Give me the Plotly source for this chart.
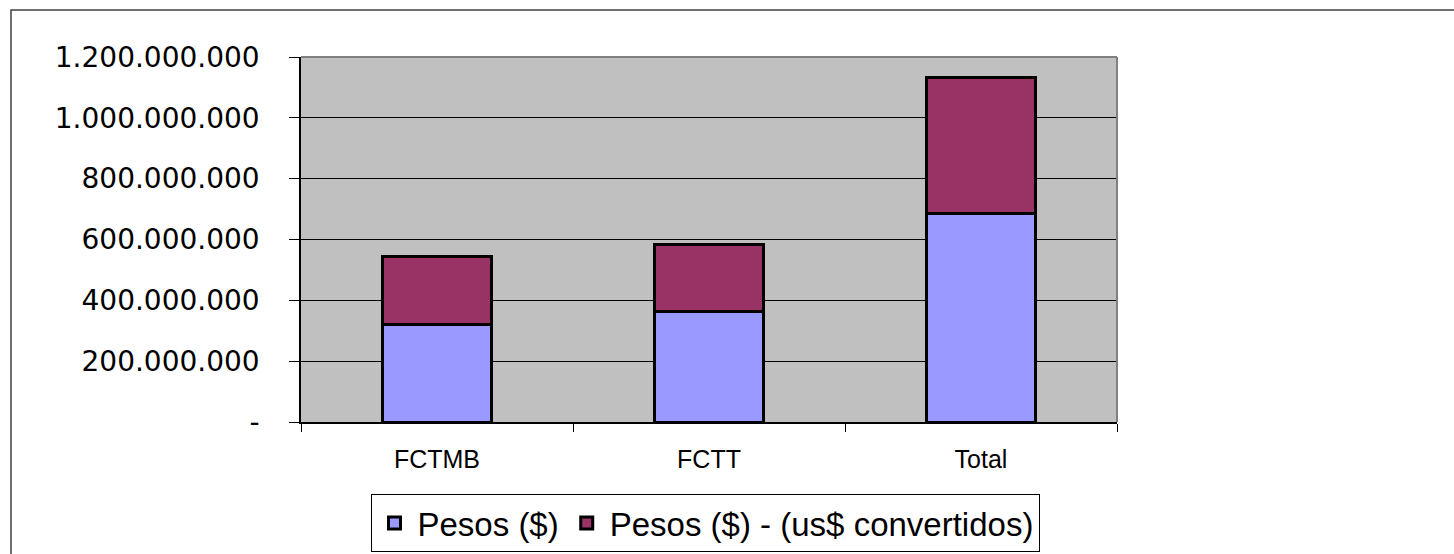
import plotly.graph_objects as go

categories = ["FCTMB", "FCTT", "Total"]
pesos = [321_000_000, 362_000_000, 684_000_000]
pesos_usd_conv = [222_000_000, 223_000_000, 447_000_000]
series_names = ["Pesos ($)", "Pesos ($) - (us$ convertidos)"]
tick_values = [0, 200_000_000, 400_000_000, 600_000_000, 800_000_000, 1_000_000_000, 1_200_000_000]
tick_labels = ["-", "200.000.000", "400.000.000", "600.000.000", "800.000.000", "1.000.000.000", "1.200.000.000"]

W, H = 1454, 554
L, R, T, B = 301, 1117, 57, 422
pw, ph = R - L, B - T

fig = go.Figure()
fig.add_trace(go.Bar(x=categories, y=pesos, name=series_names[0],
                     marker=dict(color="#9999FF", line=dict(color="black", width=3))))
fig.add_trace(go.Bar(x=categories, y=pesos_usd_conv, name=series_names[1],
                     marker=dict(color="#993366", line=dict(color="black", width=3))))

def px_x(x):
    return (x - L) / pw

def px_y(y):
    return (B - y) / ph

shapes = [
    # outer chart border
    dict(type="rect", xref="paper", yref="paper", x0=px_x(11), x1=px_x(1470), y0=px_y(10), y1=px_y(570),
         line=dict(color="#404040", width=1.5), layer="above"),
    # plot area gray border (top and right)
    dict(type="line", xref="paper", yref="paper", x0=0, x1=1, y0=1, y1=1,
         line=dict(color="#808080", width=2), layer="above"),
    dict(type="line", xref="paper", yref="paper", x0=1, x1=1, y0=0, y1=1,
         line=dict(color="#808080", width=2), layer="above"),
]

fig.update_layout(
    width=W, height=H,
    margin=dict(l=L, r=W - R, t=T, b=H - B, pad=0, autoexpand=False),
    barmode="stack",
    bargap=0.6,
    plot_bgcolor="#C0C0C0",
    paper_bgcolor="white",
    font=dict(family="Arial, Liberation Sans, sans-serif", color="black"),
    shapes=shapes,
    legend=dict(orientation="h", x=px_x(705), xanchor="center", y=px_y(494), yanchor="top",
                bordercolor="black", borderwidth=1, bgcolor="white",
                font=dict(size=33, family="Arial, Liberation Sans, sans-serif"),
                itemwidth=36, tracegroupgap=0, traceorder="normal"),
    xaxis=dict(type="category", showline=True, linecolor="black", linewidth=1.5,
               ticks="outside", tickson="boundaries", ticklen=8, tickcolor="black", tickwidth=1,
               showgrid=False, tickfont=dict(size=25), ticklabelstandoff=14, automargin=False),
    yaxis=dict(range=[0, 1_200_000_000], tickvals=tick_values, ticktext=tick_labels,
               showline=True, linecolor="black", linewidth=1.5,
               ticks="outside", ticklen=10, tickcolor="black", tickwidth=1,
               showgrid=True, gridcolor="black", gridwidth=1, zeroline=False,
               tickfont=dict(size=28, family="DejaVu Sans, Arial, sans-serif"), ticklabelstandoff=24,
               automargin=False),
)

fig.write_html("out.html", config={"displayModeBar": False},
               post_script=["document.body.style.margin='0';document.body.style.overflow='hidden';"])
